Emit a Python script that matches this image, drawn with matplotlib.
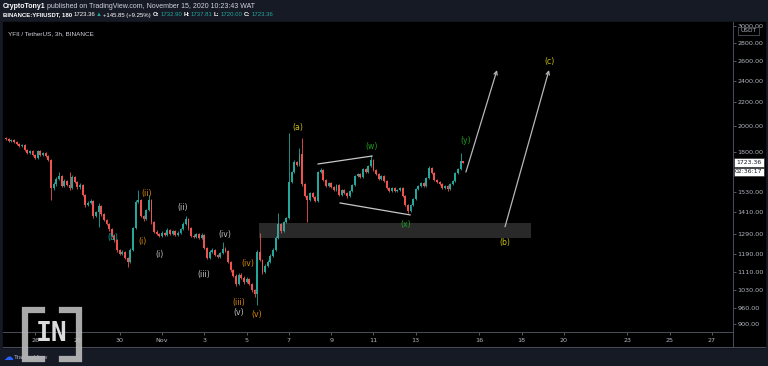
import matplotlib
matplotlib.use('Agg')
import matplotlib.pyplot as plt
from matplotlib.patches import Rectangle
from matplotlib.lines import Line2D
from matplotlib.ticker import NullLocator
import numpy as np

# 3h candles, x = days from Nov 1 00:00
first_day = -7.375
first_open = 1905
closes = [1897, 1882, 1890, 1875, 1860, 1845, 1852, 1815, 1793, 1808,
          1778, 1757, 1808, 1778, 1793, 1771, 1743, 1556, 1581, 1614,
          1634, 1569, 1601, 1575, 1556, 1627, 1595, 1562, 1575, 1513,
          1453, 1465, 1477, 1390, 1412, 1447, 1401, 1368, 1346, 1319,
          1283, 1262, 1212, 1193, 1202, 1174, 1155, 1212, 1324, 1471,
          1483, 1390, 1373, 1424, 1483, 1357, 1304, 1293, 1283, 1298,
          1288, 1314, 1293, 1309, 1288, 1298, 1319, 1346, 1373, 1324,
          1283, 1278, 1293, 1272, 1288, 1222, 1174, 1202, 1212, 1188,
          1178, 1197, 1217, 1207, 1155, 1118, 1092, 1056, 1096, 1083,
          1065, 1078, 1056, 1031, 1015, 1202, 1164, 1109, 1136, 1155,
          1183, 1212, 1272, 1346, 1309, 1357, 1379, 1595, 1660, 1729,
          1708, 1786, 1581, 1507, 1483, 1525, 1501, 1477, 1660, 1674,
          1608, 1569, 1588, 1562, 1544, 1575, 1513, 1544, 1525, 1507,
          1538, 1575, 1634, 1647, 1627, 1681, 1660, 1701, 1743, 1674,
          1647, 1614, 1634, 1601, 1556, 1538, 1556, 1538, 1544, 1556,
          1507, 1453, 1418, 1453, 1489, 1550, 1569, 1588, 1569, 1621,
          1688, 1654, 1608, 1595, 1581, 1556, 1569, 1550, 1581, 1601,
          1654, 1681, 1732.90, 1723.36]
highs = [1915, 1905, 1900, 1896, 1882, 1866, 1862, 1858, 1822, 1816,
         1812, 1786, 1818, 1814, 1802, 1800, 1778, 1750, 1592, 1625,
         1660, 1640, 1612, 1610, 1660, 1638, 1633, 1600, 1585, 1580,
         1520, 1474, 1488, 1484, 1420, 1465, 1452, 1408, 1375, 1352,
         1325, 1290, 1268, 1218, 1210, 1208, 1180, 1220, 1332, 1480,
         1544, 1490, 1398, 1432, 1513, 1490, 1362, 1312, 1300, 1306,
         1304, 1322, 1320, 1316, 1314, 1306, 1326, 1354, 1390, 1378,
         1330, 1290, 1300, 1298, 1296, 1292, 1228, 1210, 1220, 1217,
         1194, 1204, 1252, 1224, 1212, 1160, 1124, 1098, 1104, 1102,
         1090, 1086, 1084, 1062, 1036, 1210, 1298, 1170, 1144, 1162,
         1190, 1220, 1280, 1407, 1352, 1364, 1386, 1946, 1670, 1740,
         1738, 1830, 1905, 1588, 1514, 1534, 1532, 1508, 1670, 1684,
         1680, 1615, 1596, 1594, 1568, 1582, 1580, 1552, 1550, 1532,
         1546, 1584, 1642, 1656, 1654, 1690, 1688, 1710, 1778, 1750,
         1680, 1652, 1642, 1640, 1606, 1562, 1563, 1562, 1552, 1564,
         1562, 1512, 1458, 1460, 1496, 1558, 1576, 1596, 1594, 1630,
         1698, 1694, 1660, 1614, 1600, 1586, 1576, 1574, 1588, 1608,
         1662, 1690, 1793, 1737.81]
lows = [1890, 1872, 1876, 1866, 1850, 1838, 1836, 1806, 1785, 1786,
        1770, 1748, 1750, 1770, 1772, 1762, 1735, 1483, 1545, 1572,
        1605, 1560, 1560, 1566, 1545, 1548, 1586, 1552, 1550, 1504,
        1444, 1446, 1458, 1380, 1382, 1330, 1392, 1360, 1338, 1310,
        1275, 1252, 1204, 1185, 1186, 1166, 1132, 1148, 1205, 1318,
        1462, 1382, 1364, 1366, 1416, 1348, 1296, 1286, 1276, 1276,
        1280, 1282, 1286, 1286, 1281, 1282, 1292, 1312, 1340, 1316,
        1276, 1270, 1272, 1265, 1266, 1215, 1166, 1168, 1196, 1181,
        1171, 1172, 1192, 1200, 1148, 1110, 1085, 1048, 1050, 1076,
        1058, 1060, 1050, 1024, 1003, 971, 1158, 1100, 1102, 1130,
        1150, 1178, 1206, 1266, 1300, 1302, 1350, 1372, 1588, 1652,
        1700, 1700, 1572, 1498, 1357, 1475, 1492, 1468, 1470, 1652,
        1600, 1560, 1562, 1554, 1536, 1538, 1504, 1506, 1518, 1494,
        1500, 1530, 1568, 1626, 1620, 1620, 1652, 1654, 1694, 1666,
        1640, 1606, 1606, 1594, 1548, 1530, 1532, 1530, 1532, 1538,
        1500, 1446, 1407, 1412, 1448, 1482, 1544, 1562, 1562, 1562,
        1614, 1646, 1600, 1588, 1574, 1548, 1550, 1540, 1545, 1575,
        1596, 1648, 1676, 1720]

price_ticks = [3000, 2800, 2600, 2400, 2200, 2000, 1800, 1530, 1410, 1290,
               1190, 1110, 1030, 960, 900]
date_ticks = [-6, -4, -2, 0, 2, 4, 6, 8, 10, 12, 15, 17, 19, 22, 24, 26]
date_labels = ['26', '28', '30', 'Nov', '3', '5', '7', '9', '11', '13',
               '16', '18', '20', '23', '25', '27']

# drawings
zone_days = (4.59, 17.45)
zone_prices = (1272, 1351)
wedge_upper = ([7.38, 9.93], [1715, 1771])
wedge_lower = ([8.42, 11.73], [1465, 1396])
arrow_starts = [(14.37, 1660), (16.22, 1331)]
arrow_ends = [(15.84, 2506), (18.30, 2506)]

TEAL = '#1fa39a'
ORANGE = '#d98a0c'
WHITE = '#c4c4c4'
YELLOW = '#c9bf16'
GREEN = '#1f9e1f'
wave_text = ['(b)', '(ii)', '(i)', '(ii)', '(i)', '(iii)', '(iv)', '(iv)', '(iii)',
             '(v)', '(v)', '(a)', '(w)', '(x)', '(y)', '(b)', '(c)']
wave_day = [-2.32, -0.71, -0.90, 0.99, -0.13, 1.95, 2.95, 4.08, 3.61,
            3.61, 4.48, 6.43, 9.91, 11.52, 14.36, 16.22, 18.31]
wave_price = [1272, 1525, 1252, 1436, 1188, 1096, 1291, 1148, 980,
              941, 932, 1991, 1844, 1341, 1884, 1250, 2592]
wave_color = [TEAL, ORANGE, ORANGE, WHITE, WHITE, WHITE, WHITE, ORANGE, ORANGE,
              WHITE, ORANGE, YELLOW, GREEN, GREEN, GREEN, YELLOW, YELLOW]

W, H = 768, 366
fig = plt.figure(figsize=(W / 100, H / 100), dpi=100, facecolor='#161a25')


def fx(px):
    return px / W


def fy(py):
    return 1 - py / H


# black chart panel
fig.patches.append(Rectangle((fx(3), fy(347)), 762 / W, 325 / H,
                             transform=fig.transFigure, color='black', zorder=-5))

ax = fig.add_axes([fx(3), fy(332), 730 / W, 310 / H])
ax.set_facecolor('black')
ax.set_yscale('log')
ax.set_xlim(-7.52, 27.0)
ax.set_ylim(870, 3043)

# candles
c = np.array(closes, dtype=float)
o = np.array([first_open] + closes[:-1], dtype=float)
x = first_day + np.arange(len(c)) / 8
col = np.where(c >= o, '#26a69a', '#ef5350')
ax.vlines(x, lows, highs, colors=col, lw=0.6, zorder=2)
body = np.maximum(np.abs(c - o), c * 0.002)
ax.bar(x, body, bottom=np.minimum(o, c), width=0.09, color=col, lw=0, zorder=3)

# support zone
ax.add_patch(Rectangle((zone_days[0], zone_prices[0]), zone_days[1] - zone_days[0],
                       zone_prices[1] - zone_prices[0], color='#8a8a8a', alpha=0.3,
                       lw=0, zorder=4))

ax.plot(*wedge_upper, color='#c8c8c8', lw=0.9, zorder=5)
ax.plot(*wedge_lower, color='#c8c8c8', lw=0.9, zorder=5)
for s, e in zip(arrow_starts, arrow_ends):
    ax.annotate('', xy=e, xytext=s,
                arrowprops=dict(arrowstyle='->', color='#b8b8b8', lw=0.9,
                                shrinkA=0, shrinkB=0, mutation_scale=6), zorder=5)

for t, d, p, cl in zip(wave_text, wave_day, wave_price, wave_color):
    ax.text(d, p, t, color=cl, fontsize=5.6, ha='center', va='center', zorder=6)

ax.text(0.007, 0.97, 'YFII / TetherUS, 3h, BINANCE', transform=ax.transAxes,
        color='#d1d4dc', fontsize=4.6, family='Liberation Sans', ha='left', va='top')

# axes styling
for side in ['top', 'left']:
    ax.spines[side].set_visible(False)
for side in ['bottom', 'right']:
    ax.spines[side].set_color('#4a4e59')
    ax.spines[side].set_linewidth(0.7)
ax.yaxis.tick_right()
ax.set_yticks(price_ticks)
ax.set_yticklabels(['%.2f' % p for p in price_ticks])
ax.yaxis.set_minor_locator(NullLocator())
ax.set_xticks(date_ticks)
ax.set_xticklabels(date_labels)
ax.tick_params(axis='y', length=2, width=0.5, color='#787b86', labelsize=4.6,
               labelcolor='#b2b5be', pad=1.2)
ax.tick_params(axis='x', length=2, width=0.5, color='#787b86', labelsize=4.6,
               labelcolor='#b2b5be', pad=2.5)

# frame lines of time / price scales
fig.add_artist(Line2D([fx(733), fx(733)], [fy(332), fy(347)], color='#4a4e59', lw=0.7))
fig.add_artist(Line2D([fx(3), fx(765)], [fy(347), fy(347)], color='#4a4e59', lw=0.7))

# last price boxes
for (y0, y1), s in zip([(158, 166.5), (167.5, 176)], ['1723.36', '02:36:17']):
    fig.add_artist(Rectangle((fx(733.5), fy(y1)), 30 / W, (y1 - y0) / H,
                             transform=fig.transFigure, facecolor='white',
                             edgecolor='#222', lw=0.4, zorder=3))
    fig.text(fx(748.5), fy((y0 + y1) / 2), s, color='#131722', fontsize=4.4,
             ha='center', va='center', zorder=4)

# USDT badge
fig.add_artist(Rectangle((fx(738), fy(35)), 21 / W, 8 / H, transform=fig.transFigure,
                         facecolor='black', edgecolor='#5d606b', lw=0.5, zorder=3))
fig.text(fx(748.5), fy(31), 'USDT', color='#b2b5be', fontsize=4.2,
         ha='center', va='center', zorder=4)

# header rows
renderer = fig.canvas.get_renderer()


def write_row(parts, px, py, size, gap):
    for s, cl, wt in parts:
        t = fig.text(fx(px), fy(py), s, color=cl, fontsize=size, fontweight=wt,
                     family='Liberation Sans', ha='left', va='center')
        bb = t.get_window_extent(renderer=renderer)
        px = bb.x1 + gap


write_row([('CryptoTony1', 'white', 'bold'),
           ('published on TradingView.com, November 15, 2020 10:23:43 WAT', '#d1d4dc', 'normal')],
          3, 6, 5.0, 1.5)
GR = '#26a69a'
write_row([('BINANCE:YFIIUSDT, 180', 'white', 'bold'), ('1723.36', 'white', 'normal'),
           ('\u25b2', GR, 'normal'), ('+145.85 (+9.25%)', 'white', 'normal'),
           ('O:', 'white', 'bold'), ('1732.90', GR, 'normal'),
           ('H:', 'white', 'bold'), ('1737.81', GR, 'normal'),
           ('L:', 'white', 'bold'), ('1720.00', GR, 'normal'),
           ('C:', 'white', 'bold'), ('1723.36', GR, 'normal')],
          3, 15, 4.3, 1.2)

# watermark logo
LOGO = '#bdbdbd'
fig.add_artist(Line2D([fx(42), fx(25), fx(25), fx(42)], [fy(310), fy(310), fy(359), fy(359)],
                      color=LOGO, lw=4.5, alpha=0.9, solid_joinstyle='miter', zorder=5))
fig.add_artist(Line2D([fx(62), fx(79), fx(79), fx(62)], [fy(310), fy(310), fy(359), fy(359)],
                      color=LOGO, lw=4.5, alpha=0.9, solid_joinstyle='miter', zorder=5))
fig.text(fx(52), fy(334), 'IN', color='#dcdcdc', fontsize=19, fontweight='bold',
         family='DejaVu Sans Mono', ha='center', va='center', zorder=6)

# TradingView footer
fig.text(fx(3), fy(357), '\u2601', color='#2962ff', fontsize=7, ha='left', va='center', zorder=7)
fig.text(fx(14), fy(357), 'TradingView', color='#b2b5be', fontsize=4.5,
         family='Liberation Sans', ha='left', va='center', zorder=7)

fig.savefig('out.png', dpi=100, facecolor=fig.get_facecolor())
